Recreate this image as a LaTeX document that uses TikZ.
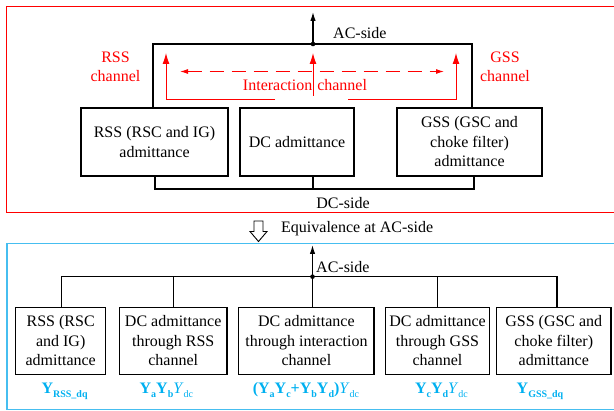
\documentclass[tikz,border=0pt]{standalone}
\usepackage{fontspec}
\setmainfont{Liberation Serif}
\usetikzlibrary{arrows.meta}
\definecolor{myred}{RGB}{255,0,0}
\definecolor{myblue}{RGB}{0,176,240}
\definecolor{boxblue}{RGB}{70,190,240}
\newcommand{\sbs}[1]{\raisebox{-4pt}{\fontsize{10}{10}\selectfont #1}}
\begin{document}
\begin{tikzpicture}[x=1pt,y=-1pt,
  every node/.style={font=\fontsize{16}{19.5}\selectfont, inner sep=0pt},
  blk/.style={draw, line width=1.2pt, align=center},
  wire/.style={line width=1.2pt},
  rwire/.style={draw=myred, line width=1pt},
  btip/.style={-{Latex[length=9pt,width=5.5pt]}},
  rtip/.style={-{Latex[length=11pt,width=7pt]}},
  lab/.style={text=myblue, anchor=base},
  rlab/.style={text=myred, align=center},
]
\useasboundingbox (0,0) rectangle (614,411);
% frames
\draw[myred, line width=0.8pt] (6,6) rectangle (620,212);
\draw[boxblue, line width=1.3pt] (7,243.5) rectangle (620,409.5);

% ---------- top diagram ----------
\node[blk, minimum width=147pt, minimum height=68pt] (rss) at (154.5,142) {RSS (RSC and IG)\\admittance};
\node[blk, minimum width=114pt, minimum height=68pt] (dc) at (297,142) {DC admittance};
\node[blk, minimum width=145pt, minimum height=68pt] (gss) at (469.5,142) {GSS (GSC and\\choke filter)\\admittance};

\coordinate (acdot) at (313,44);
\coordinate (actop) at (313,12);
\coordinate (oL) at (153,44);
\coordinate (oR) at (472,44);
\draw[wire] (rss.north -| oL) -- (oL) -- (oR) -- (gss.north -| oR);
\fill (acdot) circle (2.3pt);
\draw[wire, btip] (acdot) -- (actop);
\node[anchor=west] (aclab) at (333,33) {AC-side};

\coordinate (dL) at (155,189);
\coordinate (dR) at (474,189);
\coordinate (dM) at (313,189);
\draw[wire] (rss.south -| dL) -- (dL) -- (dR) -- (gss.south -| dR);
\draw[wire] (dc.south -| dM) -- (dM);
\node (dclab) at (343,203) {DC-side};

% red channels
\coordinate (rlb) at (275,99.5);
\coordinate (rlt) at (166,53);
\coordinate (rrb) at (348,99.5);
\coordinate (rrt) at (456,53);
\coordinate (rmb) at (313,96);
\coordinate (rmt) at (313,53);
\coordinate (dsl) at (180,71.5);
\coordinate (dsr) at (444,71.5);
\draw[rwire, rtip] (rlb) -| (rlt);
\draw[rwire, rtip] (rrb) -| (rrt);
\draw[rwire, rtip] (rmb) -- (rmt);
\draw[rwire, dash pattern=on 14pt off 8pt, {Latex[length=8pt,width=5pt]}-{Latex[length=8pt,width=5pt]}] (dsl) -- (dsr);
\node[rlab] (intlab) at (305,85) {Interaction\hspace{5pt}channel};
\node[rlab] (rsslab) at (115.5,67) {RSS\\channel};
\node[rlab] (gsslab) at (505,67) {GSS\\channel};

% ---------- equivalence arrow ----------
\draw[line width=0.9pt] (254,221) -- (263,221) -- (263,231.5) -- (267,231.5) -- (258.5,241.5) -- (250,231.5) -- (254,231.5) -- cycle;
\node[anchor=west] (eqlab) at (281,229) {Equivalence at AC-side};

% ---------- bottom diagram ----------
\node[blk, minimum width=90pt, minimum height=66.6pt] (b1) at (60.7,341) {RSS (RSC\\and IG)\\admittance};
\node[blk, minimum width=107.6pt, minimum height=66.6pt] (b2) at (173.2,341) {DC admittance\\through RSS\\channel};
\node[blk, minimum width=135.2pt, minimum height=66.6pt] (b3) at (306.4,341) {DC admittance\\through interaction\\channel};
\node[blk, minimum width=103.7pt, minimum height=66.6pt] (b4) at (437.5,341) {DC admittance\\through GSS\\channel};
\node[blk, minimum width=114.4pt, minimum height=66.6pt] (b5) at (553.8,341) {GSS (GSC and\\choke filter)\\admittance};

\coordinate (ac2) at (312.5,276.7);
\coordinate (ac2top) at (312.5,245);
\coordinate (bL) at (61.5,276.7);
\coordinate (bR) at (557,276.7);
\draw[wire] (b1.north -| bL) -- (bL) -- (bR) -- (b5.north -| bR);
\draw[wire] (b2.north) -- (b2.north |- bL);
\draw[wire] (b4.north) -- (b4.north |- bL);
\draw[wire] (b3.north -| ac2) -- (ac2);
\fill (ac2) circle (2.3pt);
\draw[wire, btip] (ac2) -- (ac2top);
\node[anchor=west] (ac2lab) at (316,266.7) {AC-side};

% labels
\node[lab] (y1) at (64.6,393.5) {\textbf{Y}\sbs{\bfseries RSS\_dq}};
\node[lab] (y2) at (166.4,393.5) {\textbf{Y}\sbs{\bfseries a}\textbf{Y}\sbs{\bfseries b}\textit{Y}\sbs{dc}};
\node[lab] (y3) at (306,393.5) {\textbf{(Y}\sbs{\bfseries a}\textbf{Y}\sbs{\bfseries c}\textbf{+Y}\sbs{\bfseries b}\textbf{Y}\sbs{\bfseries d}\textbf{)}\textit{Y}\sbs{dc}};
\node[lab] (y4) at (441.5,393.5) {\textbf{Y}\sbs{\bfseries c}\textbf{Y}\sbs{\bfseries d}\textit{Y}\sbs{dc}};
\node[lab] (y5) at (540,393.5) {\textbf{Y}\sbs{\bfseries GSS\_dq}};
\end{tikzpicture}
\end{document}
